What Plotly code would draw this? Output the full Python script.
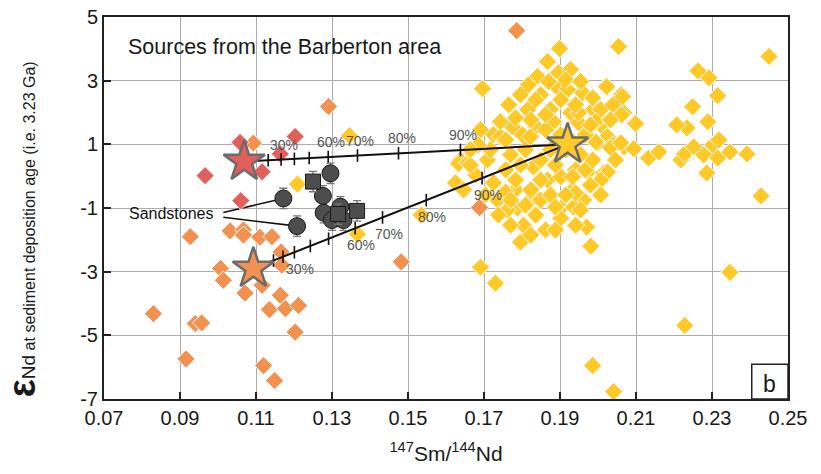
import plotly.graph_objects as go

# ---------------- data ----------------
yellow_x = [0.1899,0.2054,0.1867,0.1696,0.1896,0.1928,0.1841,0.1817,0.1894,0.1849,0.1960,0.2020,0.2062,
            0.1765,0.1815,0.1875,0.1928,0.1988,0.2068,0.1775,0.1836,0.1883,0.1949,0.2007,0.1691,0.1725,
            0.1801,0.2025,0.1638,0.1709,0.1743,0.1822,0.1770,0.1830,0.1867,0.1783,0.1830,0.1902,0.1941,
            0.1973,0.2015,0.1999,0.2039,0.2068,0.1933,0.1962,0.1902,0.1936,0.1836,0.1788,0.1762,0.1804,
            0.1902,0.1970,0.1796,0.1981,0.1725,0.1736,0.1757,
            0.2263,0.2292,0.2315,0.2249,0.2289,0.2234,0.2207,0.2099,0.2062,0.2065,0.2023,0.2007,0.2039,
            0.1994,0.1949,0.1920,0.1994,0.2033,0.2060,0.2094,0.2133,0.2160,0.2218,0.2228,0.2252,0.2278,
            0.2302,0.2318,0.2315,0.2347,0.2392,0.2286,0.1967,0.2025,0.1933,0.1941,0.2007,
            0.1346,0.1209,0.1633,0.1657,0.1625,0.1646,0.1535,0.1367,0.1691,0.1730,0.1986,0.2041,0.2228,
            0.2347,0.2429,0.2450,
            0.1862,0.1902,0.1915,0.1875,0.1849,0.1888,0.1809,0.1796,0.1757,0.1717,0.1678,0.1664,0.1704,
            0.1738,0.1770,0.1849,0.1875,0.1915,0.1862,0.1823,0.1888,0.1941,0.1954,0.1980,0.1986,0.1954,
            0.1928,0.1967,0.1980,0.1941,0.1902,0.1862,0.1823,0.1783,0.1796,0.1836,0.1870,0.1915,0.1954,
            0.1986,0.2033,0.2046,0.2007,0.1823,0.1685,0.1664,0.1743,0.1757,0.1849,0.1809,0.1770,0.1783,
            0.1888]
yellow_y = [4.01,4.07,3.60,2.75,3.25,3.35,3.13,2.87,2.78,2.56,2.62,2.81,2.56,
            2.24,2.09,2.09,1.99,2.09,1.99,1.55,1.55,1.71,1.68,1.61,1.46,1.30,
            1.30,1.24,0.51,0.51,1.24,1.24,0.67,0.29,-0.12,-0.43,-0.65,-0.02,0.20,
            0.13,0.10,1.05,0.98,0.92,-0.43,-0.75,-1.00,-0.97,-1.22,-1.00,-1.06,-1.54,
            -1.32,-1.60,-2.07,-2.20,-0.21,-0.75,-0.50,
            3.31,3.09,2.53,2.18,1.71,1.52,1.61,1.65,1.93,2.50,2.81,2.09,2.24,
            1.71,1.99,2.72,1.08,0.89,1.05,0.86,0.57,0.76,0.51,0.70,0.92,0.67,
            0.98,1.14,0.57,0.76,0.70,0.10,0.20,0.13,-0.02,-0.53,-0.12,
            1.27,-0.25,0.39,0.42,-0.21,-0.43,-1.22,-1.82,-2.86,-3.36,-5.95,-6.77,-4.69,
            -3.02,-0.62,3.76,
            1.46,1.30,0.83,0.83,0.51,0.35,0.83,0.35,0.20,0.83,0.04,0.35,-0.59,
            -1.22,-1.54,-0.75,-0.59,-0.59,-1.69,-1.85,-1.69,-1.54,-1.06,-0.28,0.51,0.67,
            1.14,1.30,1.61,2.24,2.40,1.93,1.77,1.83,2.56,2.40,2.97,3.03,2.97,
            2.46,1.77,0.51,-0.59,-0.43,0.98,0.83,1.71,1.14,-0.12,-0.91,-0.75,-0.12,
            -0.97]

orange_x = [0.1786,0.1291,0.1093,0.1688,0.1482,0.0927,0.1032,0.1067,0.1067,0.1110,0.1142,0.1166,0.1168,
            0.1007,0.1014,0.1071,0.1116,0.1164,0.1135,0.1177,0.1212,0.1203,0.0830,0.0940,0.0957,0.0916,
            0.1120,0.1149]
orange_y = [4.57,2.19,1.04,-0.99,-2.69,-1.90,-1.72,-1.69,-1.85,-1.92,-1.90,-2.38,-2.80,
            -2.90,-3.27,-3.67,-3.43,-3.74,-4.19,-4.16,-4.06,-4.90,-4.32,-4.63,-4.61,-5.74,
            -5.95,-6.42]

red_x = [0.1058,0.1203,0.0966,0.1060,0.1116,0.1164]
red_y = [1.06,1.245,0.017,-0.77,0.14,0.70]

# end-members (stars)
star_names = ["red", "orange", "yellow"]
star_x = [0.1069, 0.1093, 0.1920]
star_y = [0.46, -2.90, 1.00]

# mixing-curve ticks (x positions) and their fractions
upper_tick_x = [0.1132,0.1166,0.1201,0.1240,0.1290,0.1367,0.1475,0.1638]
upper_tick_f = [20,30,40,50,60,70,80,90]
upper_labels = [30,60,70,80,90]
lower_tick_x = [0.1146,0.1171,0.1201,0.1243,0.1291,0.1361,0.1433,0.1548,0.1695]
lower_tick_f = [10,20,30,40,50,60,70,80,90]
lower_labels = [30,60,70,80,90]

# sandstones
ss_circ_x = [0.1172,0.1208,0.1296,0.1276,0.1278,0.1322,0.1300,0.1330]
ss_circ_y = [-0.70,-1.57,0.09,-0.62,-1.15,-0.96,-1.38,-1.38]
ss_circ_err = [0.32]*8
ss_sq_x = [0.1250,0.1316,0.1366]
ss_sq_y = [-0.17,-1.19,-1.09]
ss_sq_err = [0.32]*3

x_ticks = [0.07,0.09,0.11,0.13,0.15,0.17,0.19,0.21,0.23,0.25]
y_ticks = [-7,-5,-3,-1,1,3,5]

# ---------------- style ----------------
FONT = "Liberation Sans Narrow, Arial Narrow, Liberation Sans, Arial, sans-serif"
YEL, ORA, RED = "#FFC928", "#F39150", "#E2605B"
SS_FILL = "#4D4D4D"

def on_line(x, p0, p1):
    (x0, y0), (x1, y1) = p0, p1
    return y0 + (x - x0) * (y1 - y0) / (x1 - x0)

fig = go.Figure()

diam = dict(symbol="diamond", size=14, line=dict(color="white", width=1))
fig.add_trace(go.Scatter(x=yellow_x, y=yellow_y, mode="markers",
                         marker=dict(color=YEL, **diam), hoverinfo="skip"))
fig.add_trace(go.Scatter(x=orange_x, y=orange_y, mode="markers",
                         marker=dict(color=ORA, **diam), hoverinfo="skip"))
fig.add_trace(go.Scatter(x=red_x, y=red_y, mode="markers",
                         marker=dict(color=RED, **diam), hoverinfo="skip"))

R = (star_x[0], star_y[0]); O = (star_x[1], star_y[1]); Y = (star_x[2], star_y[2])

# mixing lines
for a in (R, O):
    fig.add_trace(go.Scatter(x=[a[0], Y[0]], y=[a[1], Y[1]], mode="lines",
                             line=dict(color="#111", width=2), hoverinfo="skip"))
uy = [on_line(x, R, Y) for x in upper_tick_x]
ly = [on_line(x, O, Y) for x in lower_tick_x]
tickm = dict(symbol="line-ns", size=9, line=dict(color="#111", width=1.6))
fig.add_trace(go.Scatter(x=upper_tick_x, y=uy, mode="markers", marker=tickm, hoverinfo="skip"))
fig.add_trace(go.Scatter(x=lower_tick_x, y=ly, mode="markers", marker=tickm, hoverinfo="skip"))

# sandstones
errs = dict(type="data", visible=True, color="#777", thickness=1.3, width=4)
fig.add_trace(go.Scatter(x=ss_circ_x, y=ss_circ_y, mode="markers",
                         error_y=dict(array=ss_circ_err, **errs),
                         marker=dict(symbol="circle", size=17, color=SS_FILL,
                                     line=dict(color="#1a1a1a", width=1)), hoverinfo="skip"))
fig.add_trace(go.Scatter(x=ss_sq_x, y=ss_sq_y, mode="markers",
                         error_y=dict(array=ss_sq_err, **errs),
                         marker=dict(symbol="square", size=15, color=SS_FILL,
                                     line=dict(color="#1a1a1a", width=1)), hoverinfo="skip"))

# stars
fig.add_trace(go.Scatter(x=star_x, y=star_y, mode="markers",
                         marker=dict(symbol="star", size=31, color=[RED, ORA, YEL],
                                     line=dict(color="#6B6B6B", width=2.5)), hoverinfo="skip"))

annotations = []
for f, x in zip(upper_tick_f, upper_tick_x):
    if f in upper_labels:
        annotations.append(dict(x=x, y=on_line(x, R, Y), xref="x", yref="y", text=f"{f}%",
                                showarrow=False, xshift=3, yshift=15,
                                font=dict(family=FONT, size=14, color="#555")))
for f, x in zip(lower_tick_f, lower_tick_x):
    if f in lower_labels:
        annotations.append(dict(x=x, y=on_line(x, O, Y), xref="x", yref="y", text=f"{f}%",
                                showarrow=False, xshift=6, yshift=-17,
                                font=dict(family=FONT, size=14, color="#555")))

annotations.append(dict(x=0.0878, y=-1.17, xref="x", yref="y", text="Sandstones", showarrow=False,
                        font=dict(family=FONT, size=16, color="#111")))
annotations.append(dict(x=0.032, y=0.921, xref="paper", yref="paper", xanchor="left", yanchor="middle",
                        text="Sources from the Barberton area", showarrow=False,
                        font=dict(family=FONT, size=21.5, color="#1a1a1a")))
annotations.append(dict(x=0.9735, y=0.0, xref="paper", yref="paper", xanchor="center", yanchor="bottom",
                        text="b", showarrow=False,
                        font=dict(family=FONT, size=23, color="#1a1a1a")))
annotations.append(dict(x=-0.086, y=0.0, xref="paper", yref="paper", xanchor="right", yanchor="bottom",
                        textangle=-90, showarrow=False,
                        text="<span style='font-size:38px'><b>ε</b></span><span style='font-size:19px'>Nd</span>"
                             "<span style='font-size:16px'> at sediment deposition age (i.e. 3.23 Ga)</span>",
                        font=dict(family=FONT, size=16, color="#1a1a1a")))

shapes = [
    dict(type="rect", xref="paper", yref="paper", x0=0.009, x1=0.506, y0=0.856, y1=0.971,
         fillcolor="white", line=dict(width=0), layer="between"),
    dict(type="rect", xref="paper", yref="paper", x0=0.947, x1=1.0, y0=0.0, y1=0.091,
         fillcolor="white", line=dict(color="#222", width=1.5), layer="above"),
    dict(type="line", xref="x", yref="y", x0=0.1014, y0=-1.14, x1=ss_circ_x[0], y1=ss_circ_y[0],
         line=dict(color="#111", width=1.6), layer="between"),
    dict(type="line", xref="x", yref="y", x0=0.1014, y0=-1.29, x1=ss_circ_x[1], y1=ss_circ_y[1],
         line=dict(color="#111", width=1.6), layer="between"),
]

axis_common = dict(showgrid=True, gridcolor="#ADADAD", gridwidth=1, zeroline=False, automargin=False,
                   showline=True, linecolor="#222", linewidth=2, mirror=True,
                   ticks="inside", ticklen=7, tickwidth=1.5, tickcolor="#222",
                   tickfont=dict(family=FONT, size=20, color="#1a1a1a"))

fig.update_layout(
    width=821, height=474,
    margin=dict(l=104, r=33, t=17, b=75),
    paper_bgcolor="white", plot_bgcolor="white",
    showlegend=False,
    xaxis=dict(range=[0.07, 0.25], tickvals=x_ticks, ticktext=[f"{v:.2f}" for v in x_ticks],
               title=dict(text="<sup>147</sup>Sm/<sup>144</sup>Nd", standoff=18,
                          font=dict(family=FONT, size=21, color="#1a1a1a")),
               **axis_common),
    yaxis=dict(range=[-7, 5], tickvals=y_ticks, ticktext=[str(v) for v in y_ticks], **axis_common),
    annotations=annotations,
    shapes=shapes,
)

fig.write_html("out.html", config={"displayModeBar": False},
               post_script="document.body.style.margin='0';document.body.style.overflow='hidden';")
